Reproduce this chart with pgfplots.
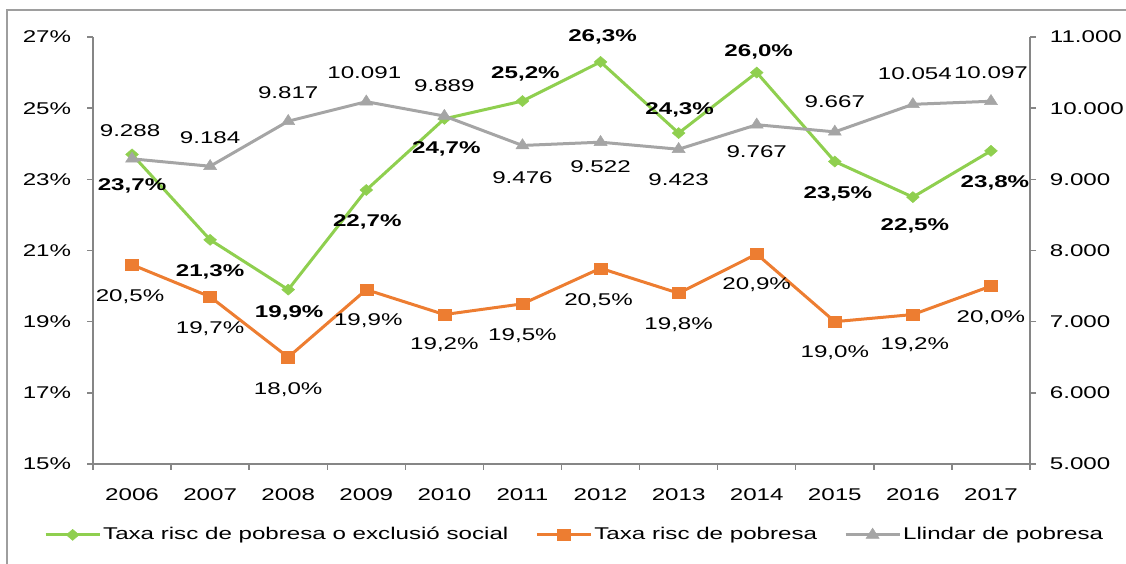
\documentclass[border=0pt]{standalone}
\usepackage{pgfplots}
\pgfplotsset{compat=1.18}
\usepackage{fontspec}
\setmainfont{Liberation Sans}[FakeStretch=1.42]
\definecolor{cgreen}{HTML}{8FCF4F}
\definecolor{corange}{HTML}{ED7D31}
\definecolor{cgray}{HTML}{A5A5A5}
\definecolor{caxis}{HTML}{868686}
\begin{document}
\fontsize{17}{20}\selectfont
\begin{tikzpicture}[x=1pt,y=1pt]
\pgfplotsset{
  base/.style={
    at={(93pt,100pt)}, anchor=south west, scale only axis,
    width=937pt, height=427pt, xmin=-0.5, xmax=11.5, clip=false,
    /pgf/number format/assume math mode=true,
    scaled y ticks=false, scaled x ticks=false,
    tick align=outside, major tick length=6pt,
    axis line style={draw=caxis, line width=1.4pt},
    every tick/.style={draw=caxis, line width=1.4pt},
    tick label style={font=\fontsize{17}{20}\selectfont, text=black},
    visualization depends on={value \thisrow{dx}\as\dx},
    visualization depends on={value \thisrow{dy}\as\dy},
    nodes near coords style={anchor=center, inner sep=0pt, xshift=\dx pt, yshift=\dy pt, text=black},
  },
  greenline/.style={draw=cgreen, line width=3pt, mark=diamond*, mark size=8.5pt,
    mark options={solid, fill=cgreen, draw=cgreen, line width=0.5pt, yscale=0.65}},
  orangeline/.style={draw=corange, line width=3pt, mark=square*, mark size=6.5pt,
    mark options={solid, fill=corange, draw=corange, line width=0.5pt, yscale=0.85}},
  grayline/.style={draw=cgray, line width=3pt, mark=triangle*, mark size=7.5pt,
    mark options={solid, fill=cgray, draw=cgray, line width=0.5pt, yscale=0.9}},
}
\begin{axis}[base,
  ymin=15, ymax=27,
  axis x line*=bottom, axis y line*=left,
  ytick={15,17,19,21,23,25,27},
  yticklabels={15\%,17\%,19\%,21\%,23\%,25\%,27\%},
  yticklabel style={xshift=-10pt},
  xtick={-0.5,0.5,...,11.5}, xticklabels={,,,,,,,,,,,,,},
  extra x ticks={0,1,2,3,4,5,6,7,8,9,10,11},
  extra x tick labels={2006,2007,2008,2009,2010,2011,2012,2013,2014,2015,2016,2017},
  extra x tick style={major tick length=0pt, tick style={draw=none},
    xticklabel style={yshift=-19pt}},
]
\addplot[greenline, nodes near coords, point meta=explicit symbolic,
  nodes near coords style={font=\bfseries\fontsize{17}{20}\selectfont}]
  table[x=x, y=y, meta=lab] {
x y lab dx dy
0 23.7 23,7\% 0 -31
1 21.3 21,3\% 0 -32
2 19.9 19,9\% 1 -23
3 22.7 22,7\% 1 -32
4 24.7 24,7\% 2 -30
5 25.2 25,2\% 3 27
6 26.3 26,3\% 2 25
7 24.3 24,3\% 1 23
8 26.0 26,0\% 2 21
9 23.5 23,5\% 3 -32
10 22.5 22,5\% 2 -29
11 23.8 23,8\% 4 -32
};
\addplot[orangeline, nodes near coords, point meta=explicit symbolic,
  nodes near coords style={font=\fontsize{17}{20}\selectfont}]
  table[x=x, y=y, meta=lab] {
x y lab dx dy
0 20.6 20,5\% -2 -32
1 19.7 19,7\% 0 -32
2 18.0 18,0\% 0 -32
3 19.9 19,9\% 2 -31
4 19.2 19,2\% 0 -30
5 19.5 19,5\% 0 -32
6 20.5 20,5\% -2 -32
7 19.8 19,8\% 0 -31
8 20.9 20,9\% 0 -31
9 19.0 19,0\% 0 -31
10 19.2 19,2\% 2 -30
11 20.0 20,0\% 0 -32
};
\end{axis}
\begin{axis}[base,
  ymin=5000, ymax=11000,
  axis x line=none, axis y line*=right,
  ytick={5000,6000,7000,8000,9000,10000,11000},
  yticklabels={5.000,6.000,7.000,8.000,9.000,10.000,11.000},
  yticklabel style={xshift=8pt},
  legend columns=3,
  legend style={at={(0.514,-0.166)}, anchor=center, draw=none, fill=none,
    font=\fontsize{17}{20}\selectfont, inner sep=0pt,
    /tikz/every even column/.append style={column sep=25pt}},
  legend image code/.code={\draw[mark repeat=2,mark phase=2,#1] plot coordinates {(0pt,0pt) (27pt,0pt) (54pt,0pt)};},
]
\addlegendimage{greenline}
\addlegendentry{Taxa risc de pobresa o exclusió social}
\addlegendimage{orangeline}
\addlegendentry{Taxa risc de pobresa}
\addplot[grayline, nodes near coords, point meta=explicit symbolic,
  nodes near coords style={font=\fontsize{17}{20}\selectfont}]
  table[x=x, y=y, meta=lab] {
x y lab dx dy
0 9288 9.288 -2 28
1 9184 9.184 0 29
2 9817 9.817 0 29
3 10091 10.091 -2 29
4 9889 9.889 0 30
5 9476 9.476 0 -32
6 9522 9.522 0 -24
7 9423 9.423 0 -30
8 9767 9.767 0 -27
9 9667 9.667 0 30
10 10054 10.054 2 31
11 10097 10.097 0 29
};
\addlegendentry{Llindar de pobresa}
\end{axis}
\draw[caxis!80, line width=1.2pt] (7pt,-5pt) -- (7pt,554pt) -- (1135pt,554pt);
\pgfresetboundingbox
\path[use as bounding box] (0pt,0pt) rectangle (1126pt,564pt);
\end{tikzpicture}
\end{document}
